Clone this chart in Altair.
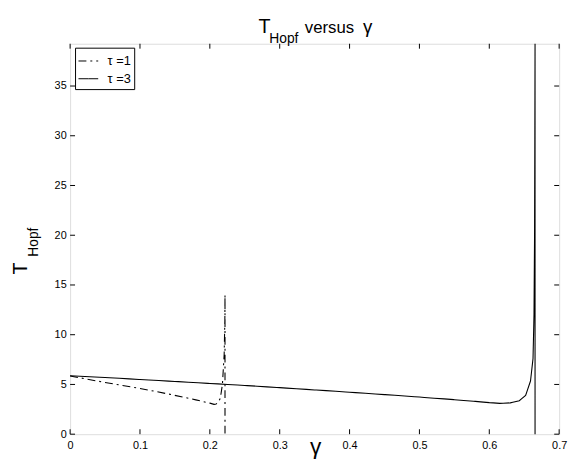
import altair as alt
import pandas as pd

# ---- data ----
series_names = ["τ =1", "τ =3"]

gamma_tau1 = [0, 0.05, 0.1, 0.14, 0.18, 0.2, 0.206, 0.209, 0.212, 0.215, 0.218, 0.2205, 0.2215, 0.2217, 0.2217]
T_tau1 = [5.85, 5.2, 4.6, 4.05, 3.45, 3.12, 3.0, 3.03, 3.2, 3.6, 5.0, 8.0, 11.5, 14.0, 0]

gamma_tau3 = [0, 0.05, 0.1, 0.15, 0.2, 0.25, 0.3, 0.35, 0.4, 0.45, 0.5, 0.55, 0.58, 0.6,
              0.615, 0.63, 0.643, 0.652, 0.659, 0.6626, 0.664, 0.6648, 0.6652, 0.6655, 0.6655]
T_tau3 = [5.88, 5.7, 5.5, 5.3, 5.1, 4.9, 4.68, 4.45, 4.22, 3.98, 3.73, 3.47, 3.3, 3.17,
          3.1, 3.15, 3.37, 3.9, 5.35, 7.6, 12, 20, 30, 39.25, 0]

x_ticks = [0, 0.1, 0.2, 0.3, 0.4, 0.5, 0.6, 0.7]
y_ticks = [0, 5, 10, 15, 20, 25, 30, 35]
x_domain = [0, 0.7]
y_domain = [0, 39.25]

W, H = 496, 396
FONT = "Liberation Sans"

rows = []
for name, gs, ts in [(series_names[0], gamma_tau1, T_tau1), (series_names[1], gamma_tau3, T_tau3)]:
    for i, (g, t) in enumerate(zip(gs, ts)):
        rows.append({"series": name, "gamma": g, "T": t, "idx": i})
df = pd.DataFrame(rows)

xscale = alt.Scale(domain=x_domain, nice=False, zero=False)
yscale = alt.Scale(domain=y_domain, nice=False, zero=False)

lines = alt.Chart(df).mark_line(color="black", strokeWidth=1.1).encode(
    x=alt.X("gamma:Q", scale=xscale,
            axis=alt.Axis(values=x_ticks, format="~g", title=None, ticks=False, domain=False,
                          grid=False, labelFontSize=11, labelColor="black", labelPadding=6,
                          labelFont=FONT, labelFlush=False)),
    y=alt.Y("T:Q", scale=yscale,
            axis=alt.Axis(values=y_ticks, title=None, ticks=False, domain=False, grid=False,
                          labelFontSize=11, labelColor="black", labelPadding=4, labelFont=FONT)),
    strokeDash=alt.StrokeDash(
        "series:N",
        scale=alt.Scale(domain=series_names, range=[[8, 4, 2, 4], [10, 0]]),
        legend=alt.Legend(orient="none", legendX=5, legendY=4, title=None,
                          strokeColor="black", fillColor="white", padding=3,
                          symbolType="stroke", symbolSize=400, symbolStrokeWidth=1,
                          symbolStrokeColor="black", labelFontSize=13, labelOffset=9,
                          labelFont=FONT, labelColor="black", rowPadding=0, cornerRadius=0),
    ),
    order="idx:Q",
)

xt = pd.DataFrame({"v": x_ticks})
yt = pd.DataFrame({"v": y_ticks})
tick_len = 5
bottom_ticks = alt.Chart(xt).mark_rule(color="black", strokeWidth=1).encode(
    x=alt.X("v:Q", scale=xscale), y=alt.value(H), y2=alt.value(H - tick_len))
top_ticks = alt.Chart(xt).mark_rule(color="black", strokeWidth=1).encode(
    x=alt.X("v:Q", scale=xscale), y=alt.value(0), y2=alt.value(tick_len))
left_ticks = alt.Chart(yt).mark_rule(color="black", strokeWidth=1).encode(
    y=alt.Y("v:Q", scale=yscale), x=alt.value(0), x2=alt.value(tick_len))
right_ticks = alt.Chart(yt).mark_rule(color="black", strokeWidth=1).encode(
    y=alt.Y("v:Q", scale=yscale), x=alt.value(W), x2=alt.value(W - tick_len))

one = alt.Data(values=[{"a": 1}])

def txt(s, x, y, size, angle=0, align="left"):
    kw = dict(align=align, baseline="alphabetic", fontSize=size, font=FONT, color="black")
    if angle:
        kw["angle"] = angle
    return alt.Chart(one).mark_text(**kw).encode(
        x=alt.value(x), y=alt.value(y), text=alt.value(s))

texts = [
    txt("T", 191, -11, 20),
    txt("Hopf", 202, -1, 14),
    txt("versus", 238, -11, 17),
    txt("γ", 297, -11, 19),
    txt("γ", 249, 416, 23, align="center"),
    txt("T", -44, 234, 20, angle=270),
    txt("Hopf", -33, 216, 14, angle=270),
]

chart = alt.layer(lines, bottom_ticks, top_ticks, left_ticks, right_ticks, *texts).properties(
    width=W, height=H,
    padding={"left": 63, "top": 33, "right": 11, "bottom": 28},
    autosize=alt.AutoSizeParams(type="none"),
).configure_view(stroke="black", strokeWidth=1).configure(font=FONT, background="white")

chart.save("out.html", embed_options={"renderer": "svg", "actions": False})
